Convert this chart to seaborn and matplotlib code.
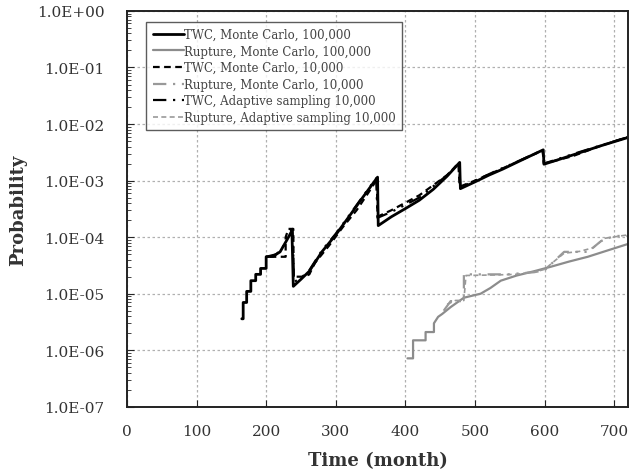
import pandas as pd
import seaborn as sns
import numpy as np
import matplotlib.pyplot as plt
from matplotlib.ticker import FuncFormatter, LogLocator, NullFormatter

# TWC, Monte Carlo, 100,000
twc_mc100k_t = [165, 167, 167, 172, 172, 178, 178, 185, 185, 192, 192, 200, 200, 210, 220, 230, 237, 239,
                250, 262, 280, 300, 320, 340, 360, 361, 380, 400, 420, 440, 460, 478, 479,
                500, 520, 540, 560, 580, 598, 599, 620, 650, 680, 720]
twc_mc100k_p = [3.6e-6, 3.6e-6, 7e-6, 7e-6, 1.1e-5, 1.1e-5, 1.7e-5, 1.7e-5, 2.2e-5, 2.2e-5, 2.8e-5, 2.8e-5,
                4.5e-5, 4.6e-5, 5.5e-5, 9e-5, 1.3e-4, 1.35e-5,
                1.8e-5, 2.5e-5, 5.5e-5, 1.1e-4, 2.4e-4, 5.3e-4, 1.15e-3, 1.6e-4, 2.3e-4, 3.2e-4, 4.5e-4, 7e-4,
                1.2e-3, 2.1e-3, 7.2e-4,
                9.5e-4, 1.25e-3, 1.6e-3, 2.1e-3, 2.75e-3, 3.5e-3, 1.95e-3, 2.35e-3, 3.1e-3, 4.1e-3, 5.8e-3]

# TWC, Monte Carlo, 10,000
twc_mc10k_t = [205, 228, 228, 232, 236, 239, 239.5, 255, 262, 270, 290, 310, 330, 350, 359, 360, 380,
               420, 460, 476, 478, 500, 540, 580, 597, 599, 640, 680, 720]
twc_mc10k_p = [4.5e-5, 4.5e-5, 1.0e-4, 1.4e-4, 1.4e-4, 1.4e-4, 2e-5, 2e-5, 2.2e-5, 3.5e-5, 7e-5, 1.5e-4,
               3e-4, 7e-4, 1.05e-3, 2.3e-4, 3e-4, 5.5e-4, 1.25e-3, 2.0e-3, 7.8e-4, 1.0e-3, 1.65e-3,
               2.75e-3, 3.4e-3, 2.0e-3, 2.7e-3, 4.1e-3, 5.9e-3]

# TWC, Adaptive sampling 10,000
twc_ad_t = [200, 215, 225, 233, 238, 240, 252, 262, 280, 300, 320, 340, 358, 360, 380, 420, 460,
            477, 479, 520, 560, 597, 599, 650, 720]
twc_ad_p = [4.5e-5, 5e-5, 7e-5, 1.2e-4, 1.4e-4, 1.6e-5, 2e-5, 2.6e-5, 5.8e-5, 1.15e-4, 2.5e-4, 5.5e-4,
            1.1e-3, 2.2e-4, 2.8e-4, 5e-4, 1.25e-3, 2.05e-3, 7.5e-4, 1.3e-3, 2.15e-3, 3.45e-3, 2.0e-3,
            3.2e-3, 5.9e-3]

# Rupture, Monte Carlo, 100,000
rup_mc100k_t = [403, 411, 411, 429, 429, 441, 441, 447, 453, 465, 484, 508, 522, 537, 560, 585, 609,
                635, 662, 690, 720]
rup_mc100k_p = [7.2e-7, 7.2e-7, 1.5e-6, 1.5e-6, 2.1e-6, 2.1e-6, 3e-6, 3.9e-6, 4.4e-6, 5.8e-6, 8.5e-6,
                1e-5, 1.26e-5, 1.7e-5, 2.1e-5, 2.5e-5, 3e-5, 3.7e-5, 4.5e-5, 5.8e-5, 7.6e-5]

# Rupture, Monte Carlo, 10,000
rup_mc10k_t = [455, 465, 478, 484, 484, 520, 547, 585, 600, 614, 628, 662, 681, 700, 720]
rup_mc10k_p = [5e-6, 7.4e-6, 7.4e-6, 7.4e-6, 2.2e-5, 2.2e-5, 2.2e-5, 2.4e-5, 2.6e-5, 3.8e-5, 5.5e-5,
               5.5e-5, 8.5e-5, 1.05e-4, 1.05e-4]

# Rupture, Adaptive sampling 10,000
rup_ad_t = [460, 472, 484, 487, 530, 560, 590, 600, 612, 628, 650, 670, 685, 720]
rup_ad_p = [6.5e-6, 7.6e-6, 7.6e-6, 2.1e-5, 2.15e-5, 2.2e-5, 2.5e-5, 2.7e-5, 3.6e-5, 5.2e-5, 5.6e-5,
            6.5e-5, 9.5e-5, 1.1e-4]

sns.set_style("white")
plt.rcParams['font.family'] = ['DejaVu Serif']

fig = plt.figure(figsize=(6.41, 4.77), dpi=100)
ax = fig.add_axes([0.198, 0.145, 0.782, 0.83])

series = [
    (twc_mc100k_t, twc_mc100k_p, 'TWC, Monte Carlo, 100,000', 'black', '-', 2.0),
    (rup_mc100k_t, rup_mc100k_p, 'Rupture, Monte Carlo, 100,000', '#8c8c8c', '-', 1.6),
    (twc_mc10k_t, twc_mc10k_p, 'TWC, Monte Carlo, 10,000', 'black', (0, (3, 2)), 1.6),
    (rup_mc10k_t, rup_mc10k_p, 'Rupture, Monte Carlo, 10,000', '#999999', (0, (6, 3, 1, 3, 1, 3)), 1.6),
    (twc_ad_t, twc_ad_p, 'TWC, Adaptive sampling 10,000', 'black', (0, (6, 3, 1, 3, 1, 3)), 1.6),
    (rup_ad_t, rup_ad_p, 'Rupture, Adaptive sampling 10,000', '#999999', (0, (3, 2)), 1.2),
]
for t, p, name, col, ls, lw in series:
    df = pd.DataFrame({'t': t, 'p': p})
    sns.lineplot(data=df, x='t', y='p', ax=ax, sort=False, estimator=None,
                 color=col, linestyle=ls, lw=lw, label=name)

ax.set_yscale('log')
ax.set_ylim(1e-7, 1)
ax.set_xlim(0, 720)
ax.set_xticks(range(0, 701, 100))
ax.yaxis.set_major_locator(LogLocator(base=10, numticks=10))
ax.yaxis.set_minor_locator(LogLocator(base=10, subs=np.arange(2, 10), numticks=20))
ax.yaxis.set_minor_formatter(NullFormatter())
ax.yaxis.set_major_formatter(FuncFormatter(lambda v, pos: f"{v:.1E}"))
ax.grid(True, which='major', color='#b0b0b0', linestyle=(0, (2, 2)), lw=0.9)
ax.tick_params(axis='both', which='major', direction='in', length=5, labelsize=11,
               labelcolor='#333333')
ax.tick_params(axis='y', which='major', pad=16)
ax.tick_params(axis='x', which='major', pad=12)
ax.tick_params(axis='y', which='minor', direction='in', length=3, left=True)
ax.tick_params(axis='both', which='both', left=True, bottom=True)
for s in ax.spines.values():
    s.set_color('#222222')
    s.set_linewidth(1.4)

ax.set_xlabel('Time (month)', fontsize=13, fontweight='bold', color='#333333', labelpad=10)
ax.set_ylabel('Probability', fontsize=13, fontweight='bold', color='#333333', labelpad=7)

leg = ax.legend(loc='upper left', bbox_to_anchor=(0.027, 0.988), fontsize=8.5, frameon=True,
                fancybox=False, edgecolor='#333333', handlelength=2.6, handletextpad=0.05,
                labelspacing=0.3, borderpad=0.55)
leg.get_frame().set_linewidth(1.0)
for txt in leg.get_texts():
    txt.set_color('#444444')

plt.savefig('out.png', dpi=100)
